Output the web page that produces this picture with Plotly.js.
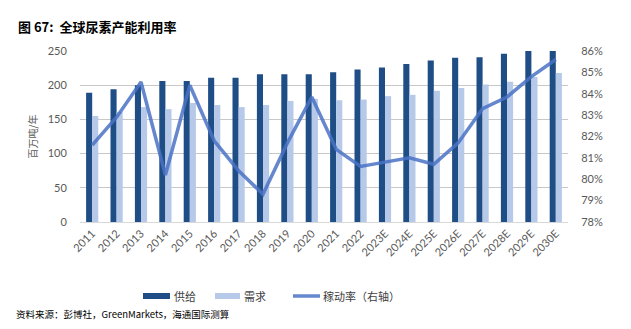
<!DOCTYPE html>
<html><head><meta charset="utf-8">
<script src="https://cdn.plot.ly/plotly-3.0.1.min.js"></script>
<style>html,body{margin:0;padding:0;background:#fff}#c{width:631px;height:329px}</style>
</head><body><div id="c"></div>
<script>
const years = ['2011','2012','2013','2014','2015','2016','2017','2018','2019','2020','2021','2022','2023E','2024E','2025E','2026E','2027E','2028E','2029E','2030E'];
const supply = [189,194,200,206,206,211,211,216,216,216,219,223,226,231,236,240,241,246,250,255];
const demand = [155,161,168,165,174,171,168,171,177,180,178,179,184,186,192,196,201,205,212,218];
const utilization = [81.6,82.9,84.55,80.2,84.4,81.8,80.4,79.3,81.7,83.85,81.4,80.6,80.8,81.0,80.7,81.7,83.3,83.85,84.8,85.6];
const leftTicks = [0,50,100,150,200,250];
const rightTicks = [78,79,80,81,82,83,84,85,86];

const cSupply = '#1F4E87', cDemand = '#B7C9E8', cLine = 'rgba(74,114,196,0.85)';
const tickFont = {family:'Lato, "Liberation Sans", sans-serif', size:11, color:'#595959'};
const cjk = '"Noto Sans CJK SC", sans-serif';

const traces = [
  {type:'bar', x:years, y:supply, name:'供给', marker:{color:cSupply}, showlegend:false},
  {type:'bar', x:years, y:demand, name:'需求', marker:{color:cDemand}, showlegend:false},
  {type:'scatter', mode:'lines', x:years, y:utilization, name:'稼动率（右轴）', yaxis:'y2',
   line:{color:cLine, width:3.5}, showlegend:false}
];

const layout = {
  width:631, height:329,
  margin:{l:80, r:63, t:51, b:107},
  paper_bgcolor:'#fff', plot_bgcolor:'#fff',
  barmode:'group', bargap:0.5, bargroupgap:0,
  title:{text:'<b>图 67:  全球尿素产能利用率</b>', font:{family:cjk, size:13, color:'#000'},
         xref:'container', x:18/631, xanchor:'left', yref:'container', y:1-27/329, yanchor:'middle'},
  xaxis:{type:'category', tickangle:-45, tickfont:tickFont, showgrid:false, showline:true,
         linecolor:'#d9d9d9', ticks:'', zeroline:false},
  yaxis:{range:[0,250], tickvals:leftTicks, tickfont:tickFont, gridcolor:'#c8c8c8', gridwidth:1,
         zeroline:false, showline:false, ticks:'outside', ticklen:10, tickcolor:'rgba(0,0,0,0)',
         title:{text:'百万吨/年', font:{family:cjk, size:10, color:'#595959'}, standoff:8}},
  yaxis2:{overlaying:'y', side:'right', range:[78,86], tickvals:rightTicks,
          ticktext:rightTicks.map(v=>v+'%'), tickfont:tickFont, showgrid:false, zeroline:false,
          showline:false, ticks:'outside', ticklen:10, tickcolor:'rgba(0,0,0,0)'},
  shapes:[
    {type:'rect', xref:'paper', yref:'paper', x0:(143-80)/488, x1:(170-80)/488, y0:(222-299)/171, y1:(222-293)/171, fillcolor:cSupply, line:{width:0}},
    {type:'rect', xref:'paper', yref:'paper', x0:(215-80)/488, x1:(240-80)/488, y0:(222-299)/171, y1:(222-293)/171, fillcolor:cDemand, line:{width:0}},
    {type:'line', xref:'paper', yref:'paper', x0:(293-80)/488, x1:(320-80)/488, y0:(222-296)/171, y1:(222-296)/171, line:{color:cLine, width:3.5}}
  ],
  annotations:[
    {text:'供给', xref:'paper', yref:'paper', x:(172-80)/488, y:(222-296)/171, xanchor:'left', yanchor:'middle', showarrow:false, font:{family:cjk, size:11, color:'#404040'}},
    {text:'需求', xref:'paper', yref:'paper', x:(242-80)/488, y:(222-296)/171, xanchor:'left', yanchor:'middle', showarrow:false, font:{family:cjk, size:11, color:'#404040'}},
    {text:'稼动率（右轴）', xref:'paper', yref:'paper', x:(321-80)/488, y:(222-296)/171, xanchor:'left', yanchor:'middle', showarrow:false, font:{family:cjk, size:11, color:'#404040'}},
    {text:'资料来源：彭博社，GreenMarkets，海通国际测算', xref:'paper', yref:'paper', x:(14-80)/488, y:(222-314)/171, xanchor:'left', yanchor:'middle', showarrow:false, font:{family:cjk, size:9.5, color:'#000'}}
  ]
};

Plotly.newPlot('c', traces, layout, {displayModeBar:false, staticPlot:true});
</script></body></html>
